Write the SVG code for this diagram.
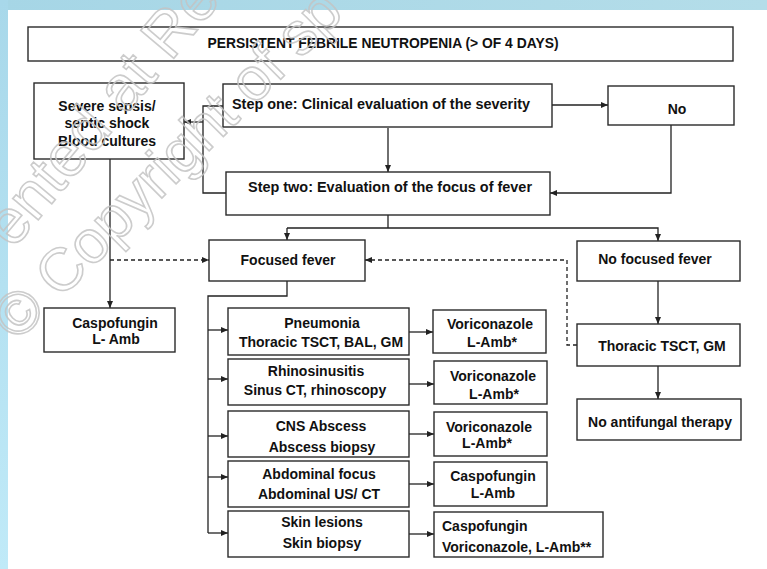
<svg xmlns="http://www.w3.org/2000/svg" width="767" height="569" viewBox="0 0 767 569">
<defs>
<linearGradient id="gTop" x1="0" y1="0" x2="1" y2="0">
<stop offset="0" stop-color="#a6d6e6"/><stop offset="1" stop-color="#b4dde9"/>
</linearGradient>
<linearGradient id="gLeft" x1="0" y1="0" x2="0" y2="1">
<stop offset="0" stop-color="#a8d8ea"/><stop offset="1" stop-color="#c0eaf8"/>
</linearGradient>
<marker id="arr" markerWidth="7" markerHeight="6" refX="7" refY="3" orient="auto" markerUnits="userSpaceOnUse">
<path d="M0,0 L7,3 L0,6 z" fill="#222"/>
</marker>
<style>
.box{fill:#fff;stroke:#2a2a2a;stroke-width:1.4}
.t{font-family:"Liberation Sans",Arial,sans-serif;font-weight:bold;font-size:14px;fill:#111;text-anchor:middle}
.l{text-anchor:start}
.c{fill:none;stroke:#222;stroke-width:1.3}
.a{marker-end:url(#arr)}
.d{stroke-dasharray:4,3}
.wm{font-family:"Liberation Sans",Arial,sans-serif;fill:none;stroke:#c4c4c4;stroke-width:1.6}
</style>
</defs>
<rect x="0" y="0" width="767" height="569" fill="#fff"/>
<rect x="0" y="0" width="767" height="10" fill="url(#gTop)"/>
<rect x="0" y="0" width="8" height="569" fill="url(#gLeft)"/>

<g id="connectors">
<path class="c a" d="M552,105 H608"/>
<path class="c" d="M223,106 H203 V193 H226"/>
<path class="c a" d="M203,122 H184"/>
<path class="c a" d="M388,128 V172"/>
<path class="c a" d="M671,125 V193 H550"/>
<path class="c" d="M388,215 V228"/>
<path class="c a" d="M287,228 H658 V241"/>
<path class="c a" d="M287,228 V240"/>
<path class="c a" d="M110,159 V308"/>
<path class="c a d" d="M110,260 H209"/>
<path class="c a d" d="M577,345 H567 V260 H365"/>
<path class="c" d="M287,281 V296 H208 V533"/>
<path class="c a" d="M208,330 H228"/>
<path class="c a" d="M208,379 H228"/>
<path class="c a" d="M208,436 H228"/>
<path class="c a" d="M208,477 H228"/>
<path class="c a" d="M208,533 H228"/>
<path class="c a" d="M409,332 H433"/>
<path class="c a" d="M409,384 H434"/>
<path class="c a" d="M409,434 H434"/>
<path class="c a" d="M409,484 H434"/>
<path class="c a" d="M409,534 H434"/>
<path class="c a" d="M658,281 V324"/>
<path class="c a" d="M658,366 V399"/>
</g>

<g id="title">
<rect class="box" x="28" y="27" width="705" height="34"/>
<text class="t" x="383" y="48" textLength="351" lengthAdjust="spacingAndGlyphs">PERSISTENT FEBRILE NEUTROPENIA (&gt; OF 4 DAYS)</text>
</g>
<g id="severe">
<rect class="box" x="34" y="83" width="150" height="76"/>
<text class="t" x="107" y="111">Severe sepsis/</text>
<text class="t" x="107" y="128">septic shock</text>
<text class="t" x="107" y="146">Blood cultures</text>
</g>
<g id="stepone">
<rect class="box" x="223" y="84" width="329" height="43"/>
<text class="t l" x="232" y="109" textLength="298" lengthAdjust="spacingAndGlyphs">Step one: Clinical evaluation of the severity</text>
</g>
<g id="no">
<rect class="box" x="608" y="86" width="126" height="39"/>
<text class="t" x="677" y="114">No</text>
</g>
<g id="steptwo">
<rect class="box" x="226" y="172" width="324" height="43"/>
<text class="t l" x="248" y="192" textLength="284" lengthAdjust="spacingAndGlyphs">Step two: Evaluation of the focus of fever</text>
</g>
<g id="focused">
<rect class="box" x="209" y="240" width="156" height="41"/>
<text class="t" x="288" y="265">Focused fever</text>
</g>
<g id="nofocused">
<rect class="box" x="577" y="241" width="163" height="40"/>
<text class="t" x="655" y="264">No focused fever</text>
</g>
<g id="caspo1">
<rect class="box" x="44" y="308" width="131" height="44"/>
<text class="t" x="115" y="328">Caspofungin</text>
<text class="t" x="116" y="344">L- Amb</text>
</g>
<g id="pneumonia">
<rect class="box" x="228" y="308" width="181" height="47"/>
<text class="t" x="322" y="328">Pneumonia</text>
<text class="t" x="321" y="347">Thoracic TSCT, BAL, GM</text>
</g>
<g id="rhino">
<rect class="box" x="228" y="359" width="181" height="46"/>
<text class="t" x="316" y="376">Rhinosinusitis</text>
<text class="t" x="315" y="395">Sinus CT, rhinoscopy</text>
</g>
<g id="cns">
<rect class="box" x="228" y="411" width="181" height="46"/>
<text class="t" x="321" y="431">CNS Abscess</text>
<text class="t" x="322" y="452">Abscess biopsy</text>
</g>
<g id="abdominal">
<rect class="box" x="228" y="461" width="181" height="46"/>
<text class="t" x="319" y="479">Abdominal focus</text>
<text class="t" x="319" y="499">Abdominal US/ CT</text>
</g>
<g id="skin">
<rect class="box" x="228" y="511" width="181" height="46"/>
<text class="t" x="322" y="527">Skin lesions</text>
<text class="t" x="322" y="548">Skin biopsy</text>
</g>
<g id="tx-pneumonia">
<rect class="box" x="433" y="310" width="113" height="43"/>
<text class="t" x="490" y="329">Voriconazole</text>
<text class="t" x="492" y="347">L-Amb*</text>
</g>
<g id="tx-rhino">
<rect class="box" x="434" y="361" width="113" height="43"/>
<text class="t" x="493" y="381">Voriconazole</text>
<text class="t" x="494" y="399">L-Amb*</text>
</g>
<g id="tx-cns">
<rect class="box" x="434" y="412" width="113" height="44"/>
<text class="t" x="489" y="432">Voriconazole</text>
<text class="t" x="487" y="448">L-Amb*</text>
</g>
<g id="tx-abdominal">
<rect class="box" x="434" y="462" width="113" height="44"/>
<text class="t" x="493" y="481">Caspofungin</text>
<text class="t" x="493" y="498">L-Amb</text>
</g>
<g id="tx-skin">
<rect class="box" x="434" y="512" width="169" height="45"/>
<text class="t l" x="442" y="531">Caspofungin</text>
<text class="t l" x="442" y="552">Voriconazole, L-Amb**</text>
</g>
<g id="thoracic">
<rect class="box" x="577" y="324" width="163" height="42"/>
<text class="t" x="662" y="351">Thoracic TSCT, GM</text>
</g>
<g id="noantifungal">
<rect class="box" x="577" y="399" width="164" height="41"/>
<text class="t" x="660" y="427">No antifungal therapy</text>
</g>

<g id="watermark" opacity="0.85">
<text class="wm" x="13" y="250" font-size="63" transform="rotate(-50 13 250)">ented at Res</text>
<text class="wm" x="17" y="343" font-size="60" transform="rotate(-45 17 343)">© Copyright of sp</text>
</g>
</svg>
